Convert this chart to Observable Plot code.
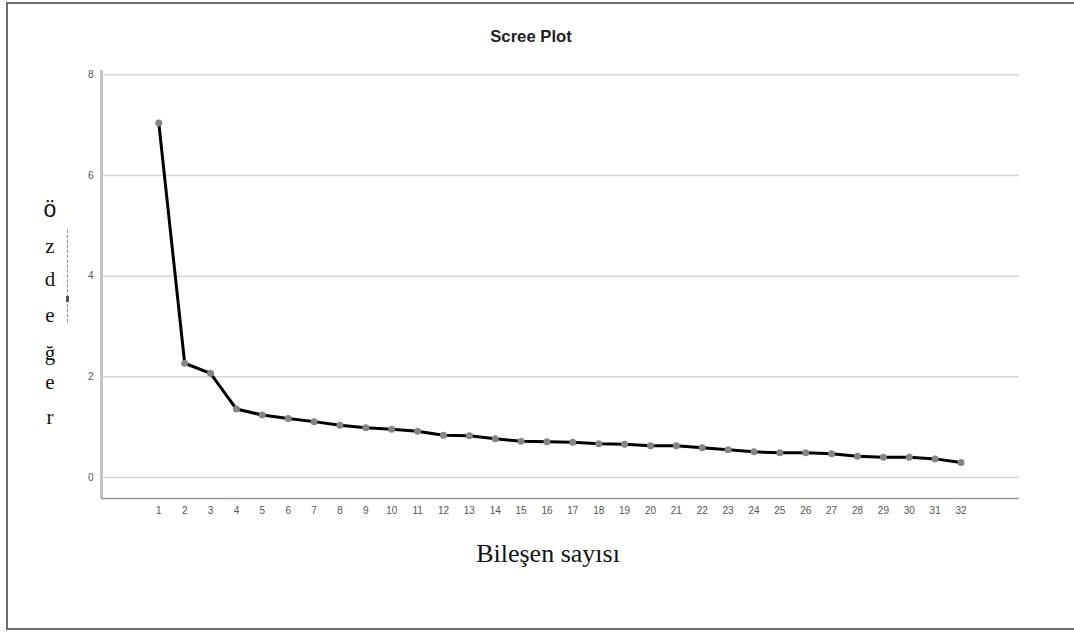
<!DOCTYPE html>
<html>
<head>
<meta charset="utf-8">
<script src="https://cdn.jsdelivr.net/npm/d3@7"></script>
<script src="https://cdn.jsdelivr.net/npm/@observablehq/plot@0.6"></script>
<style>
  html, body { margin: 0; padding: 0; background: #fff; }
  #wrap { position: relative; width: 1074px; height: 632px; overflow: hidden; background: #fff; }
  #chart { position: absolute; left: 0; top: 0; }
  .abs { position: absolute; white-space: nowrap; }
  #title { left: 0; width: 1062px; top: 27px; text-align: center; font: bold 17px "Liberation Sans", Arial, sans-serif; color: #222; transform: scaleX(0.98); }
  #xlabel { left: 0; width: 1096px; top: 539px; text-align: center; font: 26px "Liberation Serif", "DejaVu Serif", serif; color: #111; }
  .ych { width: 20px; left: 40px; text-align: center; font-size: 21px; font-family: "Liberation Serif", serif; color: #111; line-height: 1; }
  .ysans { font-family: "Liberation Sans", Arial, sans-serif !important; font-size: 23px !important; }
  #frameTop { left: 6px; top: 2px; width: 1068px; height: 2px; background: #6e6e6e; }
  #frameLeft { left: 6px; top: 2px; width: 2px; height: 628px; background: #6e6e6e; }
  #frameBottom { left: 6px; top: 628px; width: 1068px; height: 2px; background: #6e6e6e; }
  #dash { left: 67px; top: 230px; width: 0; height: 92px; border-left: 1px dashed #888; }
  #dot { left: 66px; top: 296px; width: 3px; height: 6px; background: #555; }
</style>
</head>
<body>
<div id="wrap">
  <div id="chart"></div>
  <div class="abs" id="frameTop"></div>
  <div class="abs" id="frameLeft"></div>
  <div class="abs" id="frameBottom"></div>
  <div class="abs" id="title"></div>
  <div class="abs" id="xlabel"></div>
  <div class="abs" id="dash"></div>
  <div class="abs" id="dot"></div>
  <div id="ylab"></div>
</div>
<script>
// Data
const components = [1,2,3,4,5,6,7,8,9,10,11,12,13,14,15,16,17,18,19,20,21,22,23,24,25,26,27,28,29,30,31,32];
const eigenvalues = [7.04, 2.27, 2.07, 1.36, 1.24, 1.17, 1.11, 1.04, 0.99, 0.96, 0.92, 0.84, 0.83, 0.77, 0.72, 0.71, 0.70, 0.67, 0.66, 0.63, 0.63, 0.59, 0.55, 0.51, 0.49, 0.49, 0.47, 0.42, 0.40, 0.40, 0.37, 0.30];
const yTicks = [0, 2, 4, 6, 8];
const xTitle = "Bileşen sayısı";
const yTitleFirst = "ö";
const yTitleRest = ["z", "d", "e", "ğ", "e", "r"];
const chartTitle = "Scree Plot";

const data = components.map((c, i) => ({component: c, value: eigenvalues[i]}));

const xDomain = [-1.214, 34.26];
const yDomain = [-0.417, 8.085];

const chart = Plot.plot({
  width: 1074,
  height: 632,
  marginLeft: 101,
  marginRight: 55,
  marginTop: 70,
  marginBottom: 134,
  style: {background: "transparent", fontFamily: "Liberation Sans, Arial, sans-serif"},
  x: {domain: xDomain, ticks: components, tickFormat: d => String(d)},
  y: {domain: yDomain, ticks: yTicks},
  marks: [
    Plot.ruleY(yTicks, {stroke: "#d6d6d6", strokeWidth: 1.5}),
    Plot.ruleX([xDomain[0]], {stroke: "#c4c4c4", strokeWidth: 3}),
    Plot.ruleY([yDomain[0]], {stroke: "#9a9a9a", strokeWidth: 1.5}),
    Plot.axisY({ticks: yTicks, tickSize: 0, tickPadding: 8, fontSize: 10, fill: "#555", label: null}),
    Plot.axisX({ticks: components, tickSize: 0, tickPadding: 8, fontSize: 10, fill: "#555", label: null}),
    Plot.line(data, {x: "component", y: "value", stroke: "#000", strokeWidth: 3}),
    Plot.dot(data, {x: "component", y: "value", r: 3.5, fill: "#858585", stroke: "none"})
  ]
});
document.getElementById("chart").appendChild(chart);
document.getElementById("title").textContent = chartTitle;
document.getElementById("xlabel").textContent = xTitle;

const ylab = document.getElementById("ylab");
const ys = [198, 236, 269, 305, 343, 372, 407];
const chars = [yTitleFirst, ...yTitleRest];
chars.forEach((ch, i) => {
  const d = document.createElement("div");
  d.className = i === 0 ? "abs ych ysans" : "abs ych";
  d.style.top = ys[i] + "px";
  d.textContent = ch;
  ylab.appendChild(d);
});
</script>
</body>
</html>
